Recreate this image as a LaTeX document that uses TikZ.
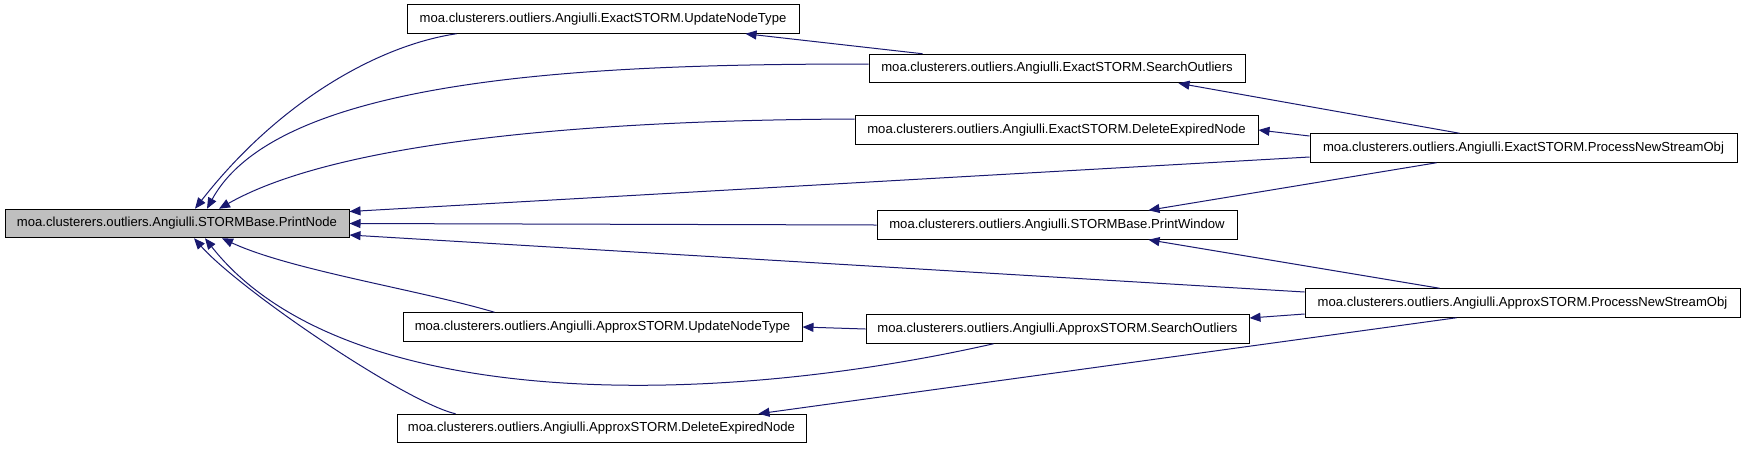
\documentclass[tikz,border=0pt]{standalone}
\usepackage{fontspec}
\setmainfont{Liberation Sans}
\usetikzlibrary{arrows.meta}
\definecolor{edgecol}{HTML}{191970}
\definecolor{hlfill}{HTML}{BFBFBF}
\begin{document}
\begin{tikzpicture}[x=1pt,y=-1pt,
  fn/.style={draw=black,line width=1pt,fill=white,inner sep=0pt,minimum height=28.5pt,font=\fontsize{13.1}{15}\selectfont,anchor=center},
  hl/.style={fn,fill=hlfill},
  edge/.style={draw=edgecol,line width=1pt,-{Triangle[length=11pt,width=9pt]}}]
\useasboundingbox (0,0) rectangle (1747,451);
\node[hl,minimum width=344pt] (pn) at (177,223.5) {moa.clusterers.outliers.Angiulli.STORMBase.PrintNode};
\node[fn,minimum width=392pt] (exupd) at (603,19) {moa.clusterers.outliers.Angiulli.ExactSTORM.UpdateNodeType};
\node[fn,minimum width=376pt] (exsrch) at (1057,68.5) {moa.clusterers.outliers.Angiulli.ExactSTORM.SearchOutliers};
\node[fn,minimum width=403pt] (exdel) at (1056.5,130) {moa.clusterers.outliers.Angiulli.ExactSTORM.DeleteExpiredNode};
\node[fn,minimum width=427pt] (exproc) at (1523.5,148) {moa.clusterers.outliers.Angiulli.ExactSTORM.ProcessNewStreamObj};
\node[fn,minimum width=360pt] (pwin) at (1057,225) {moa.clusterers.outliers.Angiulli.STORMBase.PrintWindow};
\node[fn,minimum width=435pt] (approc) at (1522.5,303) {moa.clusterers.outliers.Angiulli.ApproxSTORM.ProcessNewStreamObj};
\node[fn,minimum width=399pt] (apupd) at (602.5,327) {moa.clusterers.outliers.Angiulli.ApproxSTORM.UpdateNodeType};
\node[fn,minimum width=383pt] (apsrch) at (1057.5,329) {moa.clusterers.outliers.Angiulli.ApproxSTORM.SearchOutliers};
\node[fn,minimum width=409pt] (apdel) at (601.5,428.5) {moa.clusterers.outliers.Angiulli.ApproxSTORM.DeleteExpiredNode};
% edges into PrintNode (top)
\draw[edge] ([xshift=50pt]exupd.south west) .. controls (380,45) and (280,100) .. ([xshift=18pt]pn.north);
\draw[edge] ([yshift=4.5pt]exsrch.west) .. controls (600,64) and (280,75) .. ([xshift=30pt]pn.north);
\draw[edge] ([yshift=11pt]exdel.west) .. controls (600,120) and (340,140) .. ([xshift=42pt]pn.north);
% edges into PrintNode (right)
\draw[edge] ([yshift=-9pt]exproc.west) -- ([yshift=12pt]pn.east);
\draw[edge] (pwin.west) -- (pn.east);
\draw[edge] ([yshift=11pt]approc.west) -- ([yshift=-11.5pt]pn.east);
% edges into PrintNode (bottom)
\draw[edge] ([xshift=128pt]apsrch.south west) .. controls (700,410) and (340,410) .. ([xshift=28pt]pn.south);
\draw[edge] ([xshift=92pt]apupd.north west) .. controls (420,290) and (290,270) .. ([xshift=45pt]pn.south);
\draw[edge] ([xshift=59pt]apdel.north west) .. controls (405,402) and (240,290) .. ([xshift=17pt]pn.south);
% other edges
\draw[edge] ([xshift=54pt]exsrch.north west) -- ([xshift=-54pt]exupd.south east);
\draw[edge] ([xshift=150pt]exproc.north west) -- ([xshift=-67pt]exsrch.south east);
\draw[edge] ([yshift=12pt]exproc.west) -- (exdel.east);
\draw[edge] ([xshift=127pt]exproc.south west) -- ([xshift=-89pt]pwin.north east);
\draw[edge] ([xshift=135pt]approc.north west) -- ([xshift=-89pt]pwin.south east);
\draw[edge] ([yshift=-11pt]approc.west) -- ([yshift=11pt]apsrch.east);
\draw[edge] ([xshift=152pt]approc.south west) -- ([xshift=-48pt]apdel.north east);
\draw[edge] (apsrch.west) -- (apupd.east);
\end{tikzpicture}
\end{document}
